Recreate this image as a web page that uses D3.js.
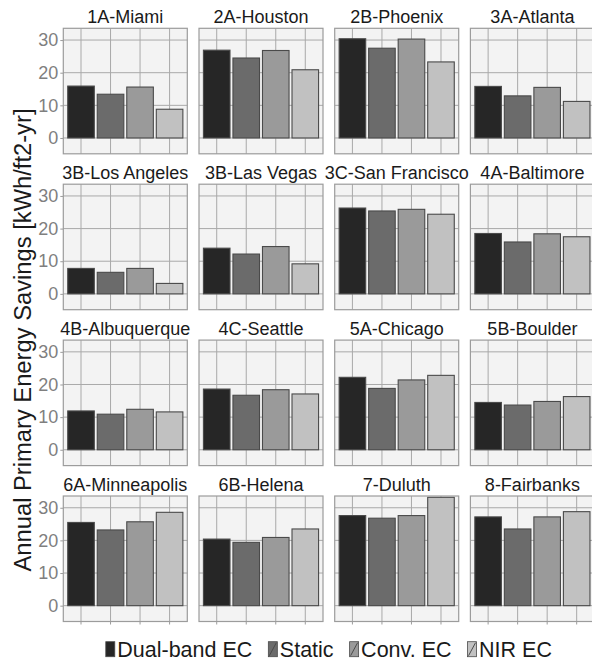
<!DOCTYPE html>
<html>
<head>
<meta charset="utf-8">
<script src="https://cdn.jsdelivr.net/npm/d3@7"></script>
<style>
    body { margin: 0; background: #fff; }
    svg { display: block; font-family: "Liberation Sans", Arial, sans-serif; }
</style>
</head>
<body>
<div id="chart"></div>
<script>
const climates = ["1A-Miami", "2A-Houston", "2B-Phoenix", "3A-Atlanta",
    "3B-Los Angeles", "3B-Las Vegas", "3C-San Francisco", "4A-Baltimore",
    "4B-Albuquerque", "4C-Seattle", "5A-Chicago", "5B-Boulder",
    "6A-Minneapolis", "6B-Helena", "7-Duluth", "8-Fairbanks"];
const variants = ["Dual-band EC", "Static", "Conv. EC", "NIR EC"];
const dualBand = [15.9, 26.9, 30.4, 15.8, 7.8, 14.0, 26.3, 18.5, 11.9, 18.6, 22.2, 14.5, 25.5, 20.4, 27.6, 27.2];
const staticGlz = [13.4, 24.5, 27.5, 12.9, 6.6, 12.2, 25.4, 15.9, 10.9, 16.7, 18.8, 13.7, 23.2, 19.4, 26.8, 23.5];
const convEC = [15.6, 26.8, 30.3, 15.5, 7.8, 14.5, 25.9, 18.4, 12.4, 18.4, 21.4, 14.8, 25.7, 20.9, 27.6, 27.2];
const nirEC = [8.8, 20.9, 23.3, 11.2, 3.2, 9.2, 24.4, 17.5, 11.6, 17.1, 22.8, 16.3, 28.6, 23.5, 33.2, 28.8];
const yTicks = [0, 10, 20, 30];
const fills = ["#262626", "#6b6b6b", "#9a9a9a", "#c1c1c1"];

const W = 592, H = 662;
const panelW = 124, panelH = 125.5;
const left0 = 63.3, colPitch = 135.7;
const top0 = 28.3, rowPitch = 155.9;
const nCols = 4, nRows = 4;

const svg = d3.select("#chart").append("svg")
    .attr("width", W).attr("height", H);

const x = d3.scaleBand().domain(variants).range([0, panelW])
    .paddingInner(0.1).paddingOuter(0.15);
const y = d3.scaleLinear().domain([-4.85, 33.6]).range([panelH, 0]);

climates.forEach((name, i) => {
    const col = i % nCols, row = Math.floor(i / nCols);
    const g = svg.append("g")
        .attr("transform", "translate(" + (left0 + col * colPitch) + "," + (top0 + row * rowPitch) + ")");

    g.append("rect")
        .attr("width", panelW).attr("height", panelH)
        .attr("fill", "#f3f3f3");

    // grid lines
    g.append("g").selectAll("line").data(yTicks).enter().append("line")
        .attr("x1", 0).attr("x2", panelW)
        .attr("y1", d => y(d)).attr("y2", d => y(d))
        .attr("stroke", "#a9a9a9").attr("stroke-width", 1);
    g.append("g").selectAll("line").data(variants).enter().append("line")
        .attr("x1", d => x(d) + x.bandwidth() / 2).attr("x2", d => x(d) + x.bandwidth() / 2)
        .attr("y1", 0).attr("y2", panelH)
        .attr("stroke", "#a9a9a9").attr("stroke-width", 1);

    const vals = [dualBand[i], staticGlz[i], convEC[i], nirEC[i]];
    g.append("g").selectAll("rect").data(vals).enter().append("rect")
        .attr("x", (d, k) => x(variants[k]))
        .attr("y", d => y(d))
        .attr("width", x.bandwidth())
        .attr("height", d => y(0) - y(d))
        .attr("fill", (d, k) => fills[k])
        .attr("stroke", "#4a4a4a").attr("stroke-width", 1.1);

    g.append("rect")
        .attr("width", panelW).attr("height", panelH)
        .attr("fill", "none").attr("stroke", "#9c9c9c").attr("stroke-width", 1.2);

    // strip title
    g.append("text")
        .attr("x", panelW / 2).attr("y", -5)
        .attr("text-anchor", "middle")
        .attr("font-size", 18).attr("fill", "#1a1a1a")
        .text(name);

    if (col === 0) {
        const ay = g.append("g")
            .call(d3.axisLeft(y).tickValues(yTicks).tickSize(3).tickPadding(2));
        ay.select(".domain").remove();
        ay.selectAll("line").attr("stroke", "#9c9c9c");
        ay.selectAll("text").attr("font-size", 18).attr("fill", "#7f7f7f")
            .attr("font-family", "Liberation Sans, Arial, sans-serif");
    }
    if (row === nRows - 1) {
        const ax = g.append("g")
            .attr("transform", "translate(0," + panelH + ")")
            .call(d3.axisBottom(x).tickSize(3).tickFormat(""));
        ax.select(".domain").remove();
        ax.selectAll("line").attr("stroke", "#9c9c9c");
    }
});

// y axis title
svg.append("text")
    .attr("transform", "translate(31,340) rotate(-90)")
    .attr("text-anchor", "middle")
    .attr("font-size", 23.5).attr("fill", "#1a1a1a")
    .attr("textLength", 463).attr("lengthAdjust", "spacingAndGlyphs")
    .text("Annual Primary Energy Savings [kWh/ft2-yr]");

// legend
const legend = svg.append("g");
const keyW = 9, keyH = 15, keyGap = 2.5, itemGap = 16;
let cursor = 0;
variants.forEach((v, k) => {
    const item = legend.append("g").attr("transform", "translate(" + cursor + ",0)");
    item.append("rect")
        .attr("x", 0).attr("y", -keyH).attr("width", keyW).attr("height", keyH)
        .attr("fill", fills[k]).attr("stroke", "#4a4a4a").attr("stroke-width", 0.8);
    if (k > 0) {
        item.append("line")
            .attr("x1", 1).attr("y1", -1).attr("x2", keyW - 1).attr("y2", -keyH + 1)
            .attr("stroke", "#4a4a4a").attr("stroke-width", 1);
    }
    const t = item.append("text")
        .attr("x", keyW + keyGap).attr("y", 0)
        .attr("font-size", 21.5).attr("fill", "#1a1a1a")
        .text(v);
    cursor += keyW + keyGap + t.node().getComputedTextLength() + itemGap;
});
const legendW = cursor - itemGap;
const panelsMid = left0 + ((nCols - 1) * colPitch + panelW) / 2;
legend.attr("transform", "translate(" + (panelsMid - legendW / 2) + ",656.7)");
</script>
</body>
</html>
